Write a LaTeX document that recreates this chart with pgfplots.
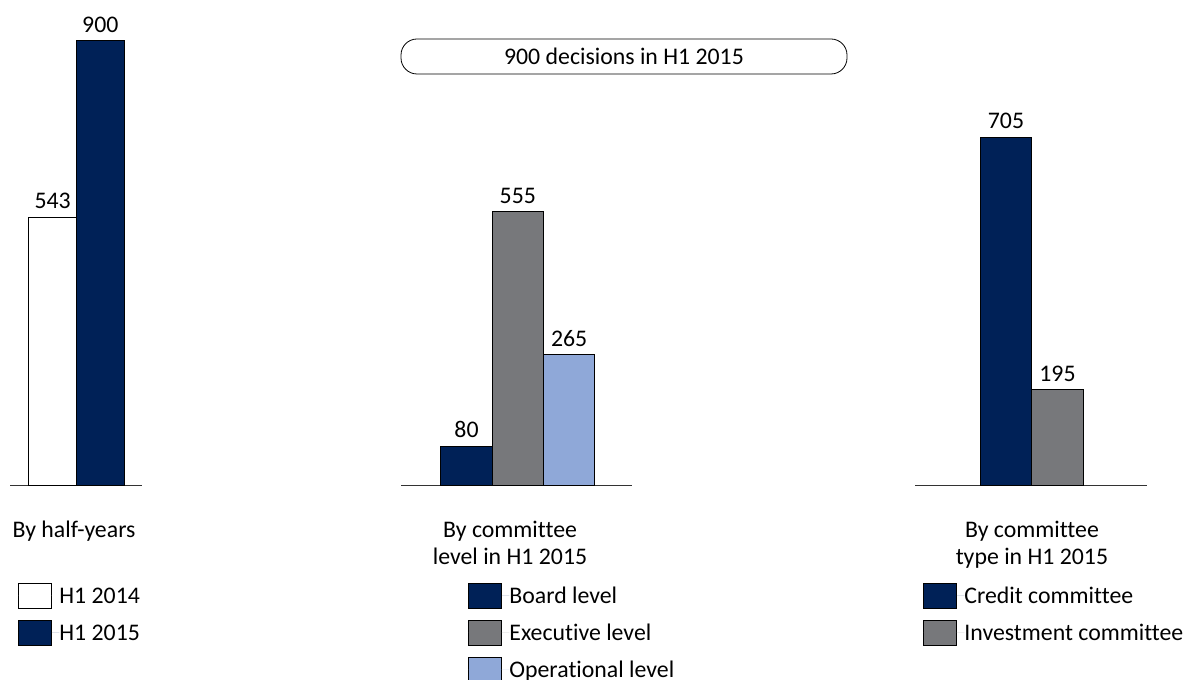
\documentclass[border=0pt]{standalone}
\usepackage{pgfplots}
\pgfplotsset{compat=1.18}
\usepackage{fontspec}
\setmainfont{Carlito}[Ligatures=NoCommon]
\definecolor{navy}{RGB}{0,33,87}
\definecolor{cgray}{RGB}{119,120,123}
\definecolor{lblue}{RGB}{143,168,216}
\newcommand\mainfs{\fontsize{23.8bp}{26.5bp}\selectfont}
\pgfplotsset{
  panel/.style={
    scale only axis, height=445bp, ymin=0, ymax=900,
    ybar, bar shift=0pt, bar width=1,
    axis x line*=bottom, hide y axis,
    x axis line style={line width=1.2bp, draw=black!80},
    xtick=\empty, ytick=\empty,
    clip=false,
    nodes near coords,
    every node near coord/.append style={font=\mainfs, inner sep=0pt, yshift=7.5bp, text=black},
    /pgf/number format/assume math mode=true,
    every axis plot/.append style={draw=black, line width=0.8bp},
    legend image code/.code={\draw[#1, draw=black, line width=0.8bp] (0bp,-12.5bp) rectangle (33bp,12.5bp); \path[draw=none] (0bp,0bp) -- (41bp,0bp);},
    legend cell align=left,
    legend style={draw=none, fill=none, inner sep=0pt, outer sep=0pt, anchor=north west, row sep=11bp, font=\mainfs, nodes={inner sep=0pt, text height=15bp, text depth=0pt}},
    xlabel style={anchor=north, align=center, inner sep=0pt, font=\mainfs},
  }
}
\begin{document}
\begin{tikzpicture}
\path[use as bounding box] (0bp,0bp) rectangle (1188bp,680bp);
\begin{axis}[panel, width=132bp, at={(10bp,194.5bp)}, anchor=south west,
  xmin=-0.897, xmax=1.876,
  xlabel={By half-years}, xlabel style={at={(rel axis cs:0.485,-0.0798)}},
  legend style={at={(rel axis cs:0.0606,-0.2191)}}]
\addplot[fill=white] coordinates {(0,543)};
\addplot[fill=navy] coordinates {(1,900)};
\legend{H1 2014, H1 2015}
\end{axis}
\begin{axis}[panel, width=231bp, at={(401bp,194.5bp)}, anchor=south west,
  xmin=-1.277, xmax=3.226,
  xlabel={By committee\\level in H1 2015}, xlabel style={at={(rel axis cs:0.472,-0.0798)}},
  legend style={at={(rel axis cs:0.290,-0.2191)}}]
\addplot[fill=navy] coordinates {(0,80)};
\addplot[fill=cgray] coordinates {(1,555)};
\addplot[fill=lblue] coordinates {(2,265)};
\legend{Board level, Executive level, Operational level}
\end{axis}
\begin{axis}[panel, width=232bp, at={(915bp,194.5bp)}, anchor=south west,
  xmin=-1.767, xmax=2.738,
  xlabel={By committee\\type in H1 2015}, xlabel style={at={(rel axis cs:0.504,-0.0798)}},
  legend style={at={(rel axis cs:0.0345,-0.2191)}}]
\addplot[fill=navy] coordinates {(0,705)};
\addplot[fill=cgray] coordinates {(1,195)};
\legend{Credit committee, Investment committee}
\end{axis}
\node[draw, line width=0.8bp, rounded corners=16bp, minimum width=446bp, minimum height=35bp, font=\mainfs, inner sep=0pt] at (624bp,623.5bp) {900 decisions in H1 2015};
\end{tikzpicture}
\end{document}
